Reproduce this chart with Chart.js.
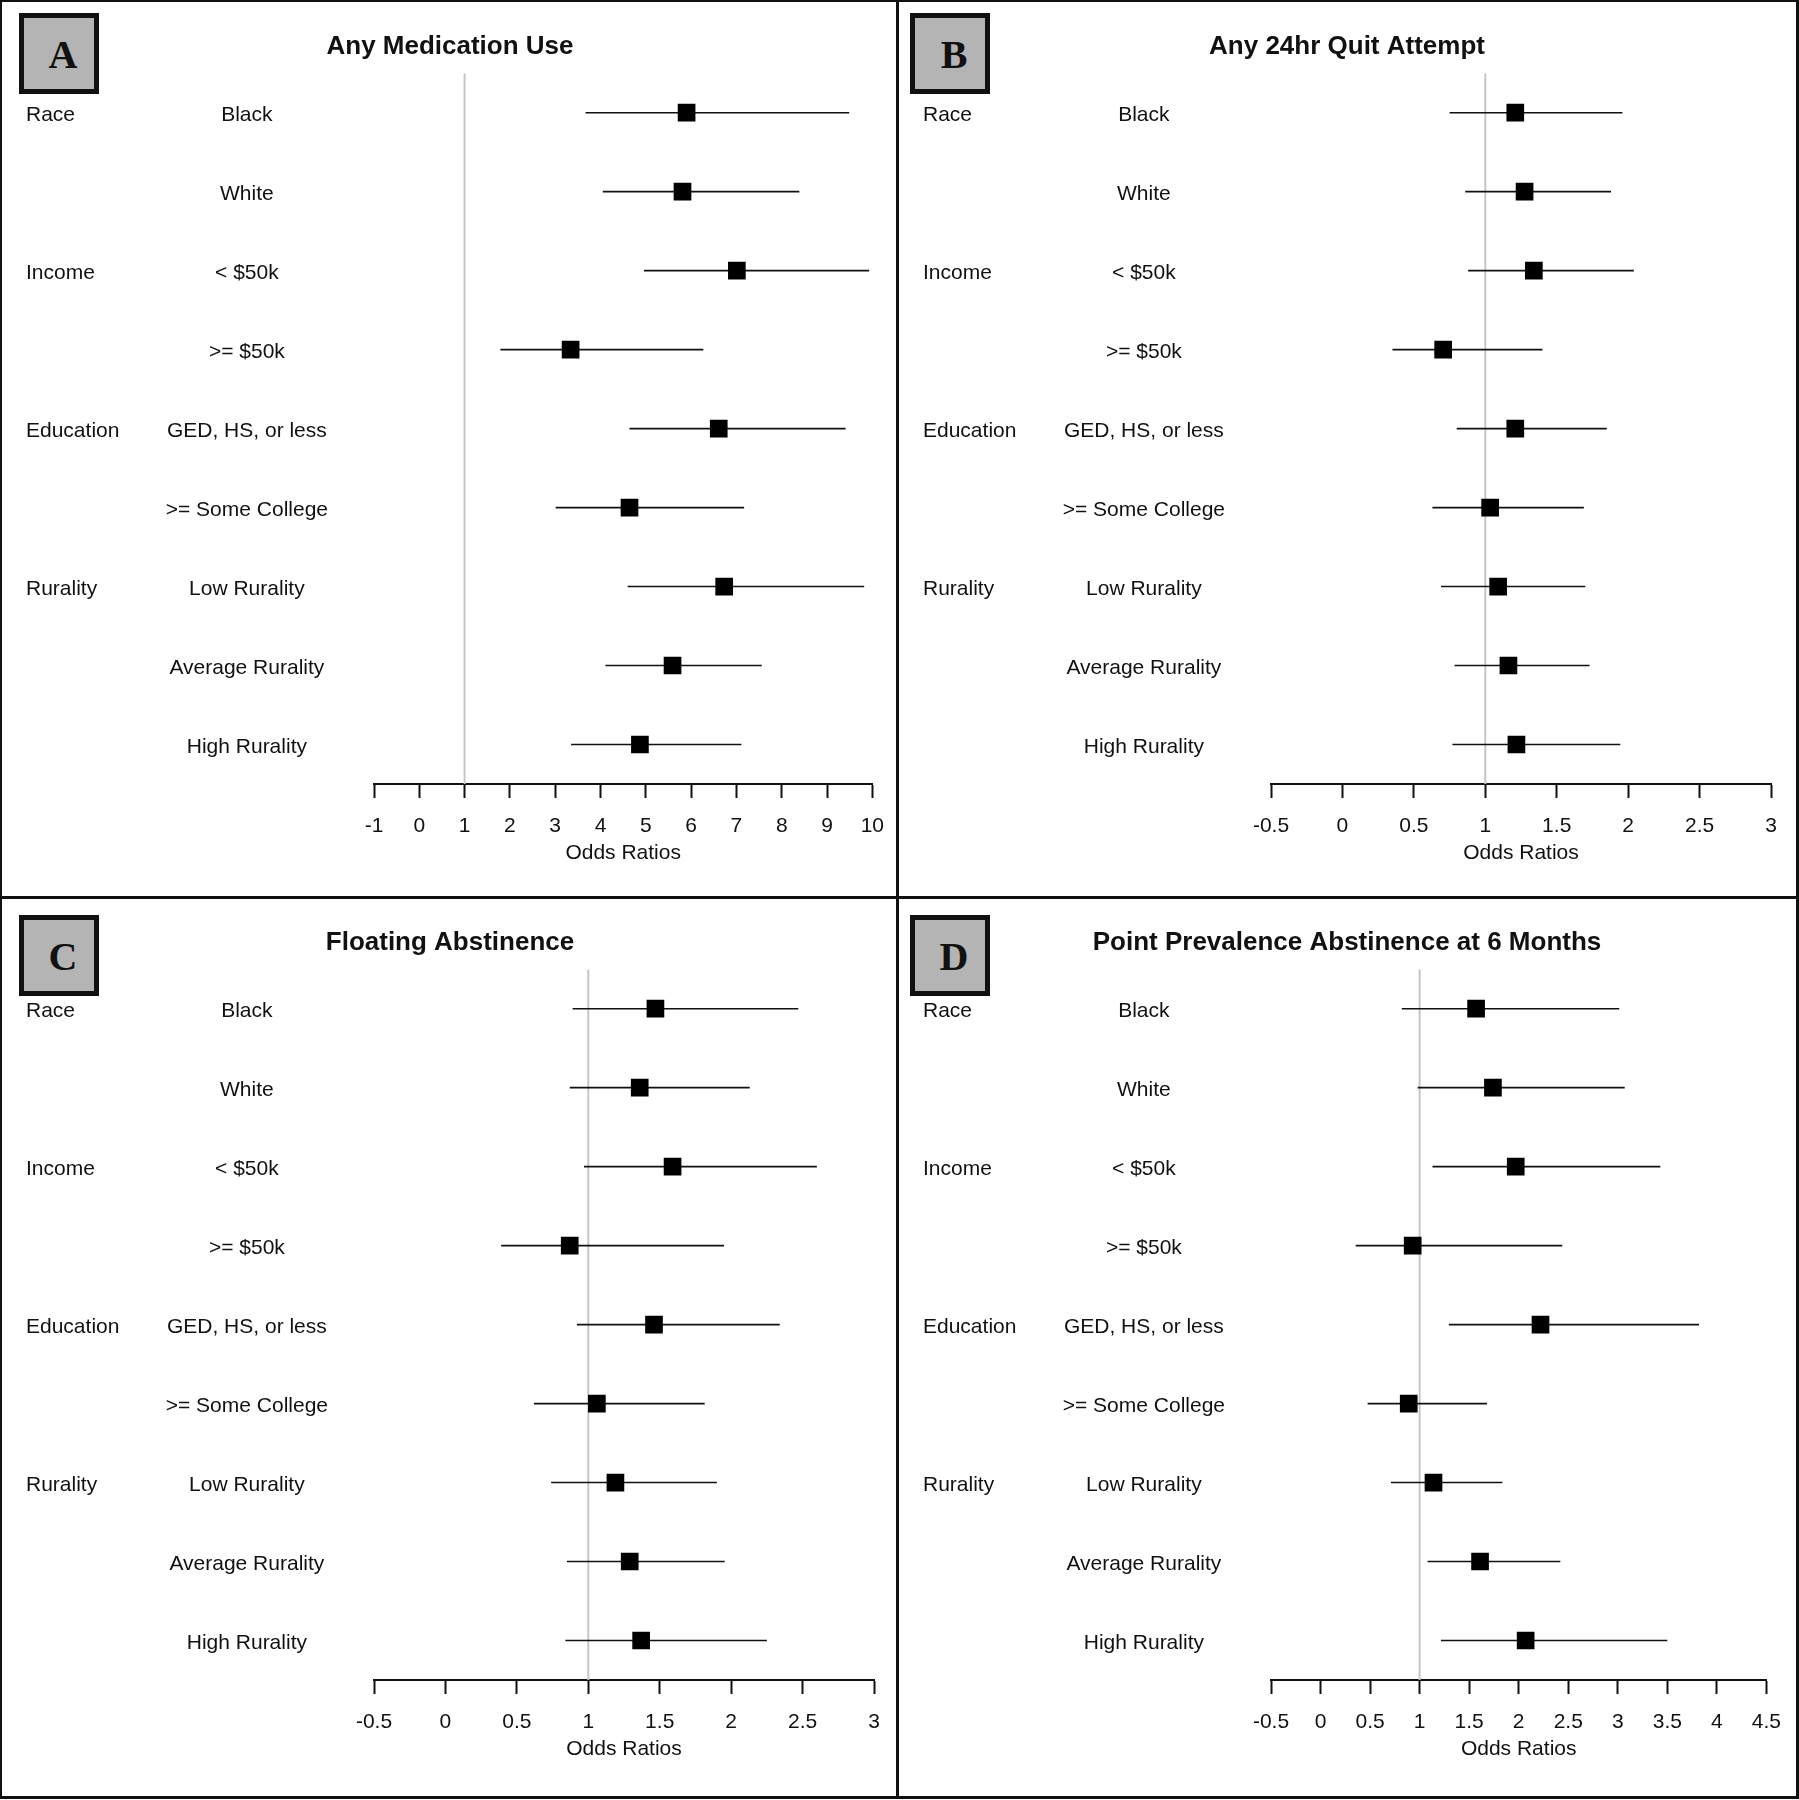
<!DOCTYPE html>
<html>
<head>
<meta charset="utf-8">
<title>Odds ratios by subgroup</title>
<script src="https://cdn.jsdelivr.net/npm/chart.js@4.4.1/dist/chart.umd.min.js"></script>
<style>
  body { margin: 0; background: #fff; }
  #fig { position: relative; width: 1799px; height: 1800px; background: #fff; }
  #fig canvas { position: absolute; }
  .frame { position: absolute; left: 0; top: 0; width: 1799px; height: 1799px; box-sizing: border-box;
           border-style: solid; border-color: #111; border-width: 2px 3px 3px 2px; }
  .vline { position: absolute; left: 896px; top: 0; width: 3px; height: 1799px; background: #111; }
  .hline { position: absolute; left: 0; top: 896px; width: 1799px; height: 3px; background: #111; }
  .tag { position: absolute; width: 80px; height: 81px; box-sizing: border-box; border: 5px solid #111;
         background: #b4b4b4; font: bold 40px "Liberation Serif", "Times New Roman", serif; color: #111;
         display: flex; align-items: center; justify-content: center; padding-left: 8px; padding-top: 2px; }
</style>
</head>
<body>
<div id="fig">
  <canvas id="panelA" width="900" height="900" style="left:0px;top:0px"></canvas>
  <canvas id="panelB" width="900" height="900" style="left:897px;top:0px"></canvas>
  <canvas id="panelC" width="900" height="900" style="left:0px;top:896px"></canvas>
  <canvas id="panelD" width="900" height="900" style="left:897px;top:896px"></canvas>
  <div class="frame"></div>
  <div class="vline"></div>
  <div class="hline"></div>
  <div class="tag" style="left:19px;top:13px">A</div>
  <div class="tag" style="left:910px;top:13px">B</div>
  <div class="tag" style="left:19px;top:915px">C</div>
  <div class="tag" style="left:910px;top:915px">D</div>
</div>

<script>
// rows, top to bottom
const groups = ['Race', '', 'Income', '', 'Education', '', 'Rurality', '', ''];
const subgroups = ['Black', 'White', '< $50k', '>= $50k', 'GED, HS, or less', '>= Some College',
                   'Low Rurality', 'Average Rurality', 'High Rurality'];
const nullEffect = 1;

// A - Any Medication Use
const medOR = [5.90, 5.81, 7.01, 3.34, 6.61, 4.64, 6.73, 5.59, 4.87];
const medLo = [3.67, 4.05, 4.96, 1.79, 4.64, 3.01, 4.60, 4.11, 3.35];
const medHi = [9.49, 8.39, 9.93, 6.27, 9.41, 7.17, 9.82, 7.56, 7.11];
const medTicks = [-1, 0, 1, 2, 3, 4, 5, 6, 7, 8, 9, 10];

// B - Any 24hr Quit Attempt
const quitOR = [1.21, 1.275, 1.34, 0.705, 1.21, 1.034, 1.09, 1.162, 1.218];
const quitLo = [0.75, 0.86, 0.88, 0.35, 0.80, 0.63, 0.69, 0.785, 0.77];
const quitHi = [1.96, 1.88, 2.04, 1.40, 1.85, 1.69, 1.70, 1.73, 1.945];
const quitTicks = [-0.5, 0, 0.5, 1, 1.5, 2, 2.5, 3];

// C - Floating Abstinence
const floatOR = [1.47, 1.36, 1.59, 0.87, 1.46, 1.06, 1.19, 1.29, 1.37];
const floatLo = [0.89, 0.87, 0.97, 0.39, 0.92, 0.62, 0.74, 0.85, 0.84];
const floatHi = [2.47, 2.13, 2.60, 1.95, 2.34, 1.815, 1.90, 1.955, 2.25];
const floatTicks = [-0.5, 0, 0.5, 1, 1.5, 2, 2.5, 3];

// D - Point Prevalence Abstinence at 6 Months
const pointOR = [1.57, 1.74, 1.97, 0.93, 2.22, 0.89, 1.14, 1.61, 2.07];
const pointLo = [0.82, 0.98, 1.13, 0.355, 1.295, 0.475, 0.71, 1.08, 1.215];
const pointHi = [3.015, 3.07, 3.43, 2.44, 3.82, 1.68, 1.835, 2.42, 3.50];
const pointTicks = [-0.5, 0, 0.5, 1, 1.5, 2, 2.5, 3, 3.5, 4, 4.5];

Chart.defaults.font.family = '"Liberation Sans", Arial, Helvetica, sans-serif';
Chart.defaults.color = '#111';

// group names in the far left column
const groupLabels = {
  id: 'groupLabels',
  afterDraw(chart) {
    const { ctx, scales: { y } } = chart;
    ctx.save();
    ctx.font = '21px "Liberation Sans", Arial, sans-serif';
    ctx.fillStyle = '#111';
    ctx.textAlign = 'left';
    ctx.textBaseline = 'middle';
    groups.forEach((g, i) => {
      if (g) ctx.fillText(g, 26, y.getPixelForValue(i + 1) + 3);
    });
    ctx.restore();
  }
};

function forestPanel(id, title, or, lo, hi, ticks) {
  const points = or.map((v, i) => ({ x: v, y: i + 1 }));
  // each interval is a segment, broken by a null point
  const whiskers = [];
  lo.forEach((v, i) => {
    whiskers.push({ x: v, y: i + 1 }, { x: hi[i], y: i + 1 }, { x: hi[i], y: null });
  });
  const refLine = [{ x: nullEffect, y: 0.5 }, { x: nullEffect, y: subgroups.length + 0.5 }];

  return new Chart(document.getElementById(id), {
    type: 'scatter',
    data: {
      datasets: [
        {
          data: points,
          pointStyle: 'rect',
          pointRadius: 12.5,
          backgroundColor: '#000',
          borderWidth: 0
        },
        {
          type: 'line',
          data: whiskers,
          borderColor: '#111',
          borderWidth: 1.6,
          pointRadius: 0,
          spanGaps: false
        },
        {
          type: 'line',
          data: refLine,
          borderColor: '#c6c6c6',
          borderWidth: 2,
          pointRadius: 0
        }
      ]
    },
    options: {
      responsive: false,
      animation: false,
      events: [],
      layout: { padding: { left: 26, right: 26, top: 0, bottom: 16 } },
      plugins: {
        legend: { display: false },
        tooltip: { enabled: false },
        title: {
          display: true,
          text: title,
          color: '#111',
          font: { size: 26, weight: 'bold' },
          padding: { top: 31.5, bottom: 10.5 }
        }
      },
      scales: {
        x: {
          type: 'linear',
          min: ticks[0],
          max: ticks[ticks.length - 1],
          afterBuildTicks: scale => { scale.ticks = ticks.map(v => ({ value: v })); },
          afterFit: scale => { scale.height = 100; },
          ticks: {
            callback: v => String(v),
            font: { size: 21 },
            color: '#111',
            padding: 16,
            maxRotation: 0,
            autoSkip: false
          },
          grid: {
            drawOnChartArea: false,
            drawTicks: true,
            tickLength: 14,
            tickWidth: 2,
            tickColor: '#111'
          },
          border: { display: true, color: '#111', width: 2 },
          title: {
            display: true,
            text: 'Odds Ratios',
            font: { size: 21 },
            color: '#111',
            padding: { top: 0, bottom: 18 }
          }
        },
        y: {
          type: 'linear',
          reverse: true,
          min: 0.5,
          max: subgroups.length + 0.5,
          afterBuildTicks: scale => { scale.ticks = subgroups.map((_, i) => ({ value: i + 1 })); },
          afterFit: scale => { scale.width = 348; },
          ticks: {
            callback: v => subgroups[v - 1],
            font: { size: 21 },
            color: '#111',
            crossAlign: 'center',
            padding: 38,
            labelOffset: 3,
            autoSkip: false
          },
          grid: { display: false },
          border: { display: false }
        }
      }
    },
    plugins: [groupLabels]
  });
}

forestPanel('panelA', 'Any Medication Use', medOR, medLo, medHi, medTicks);
forestPanel('panelB', 'Any 24hr Quit Attempt', quitOR, quitLo, quitHi, quitTicks);
forestPanel('panelC', 'Floating Abstinence', floatOR, floatLo, floatHi, floatTicks);
forestPanel('panelD', 'Point Prevalence Abstinence at 6 Months', pointOR, pointLo, pointHi, pointTicks);
</script>
</body>
</html>
